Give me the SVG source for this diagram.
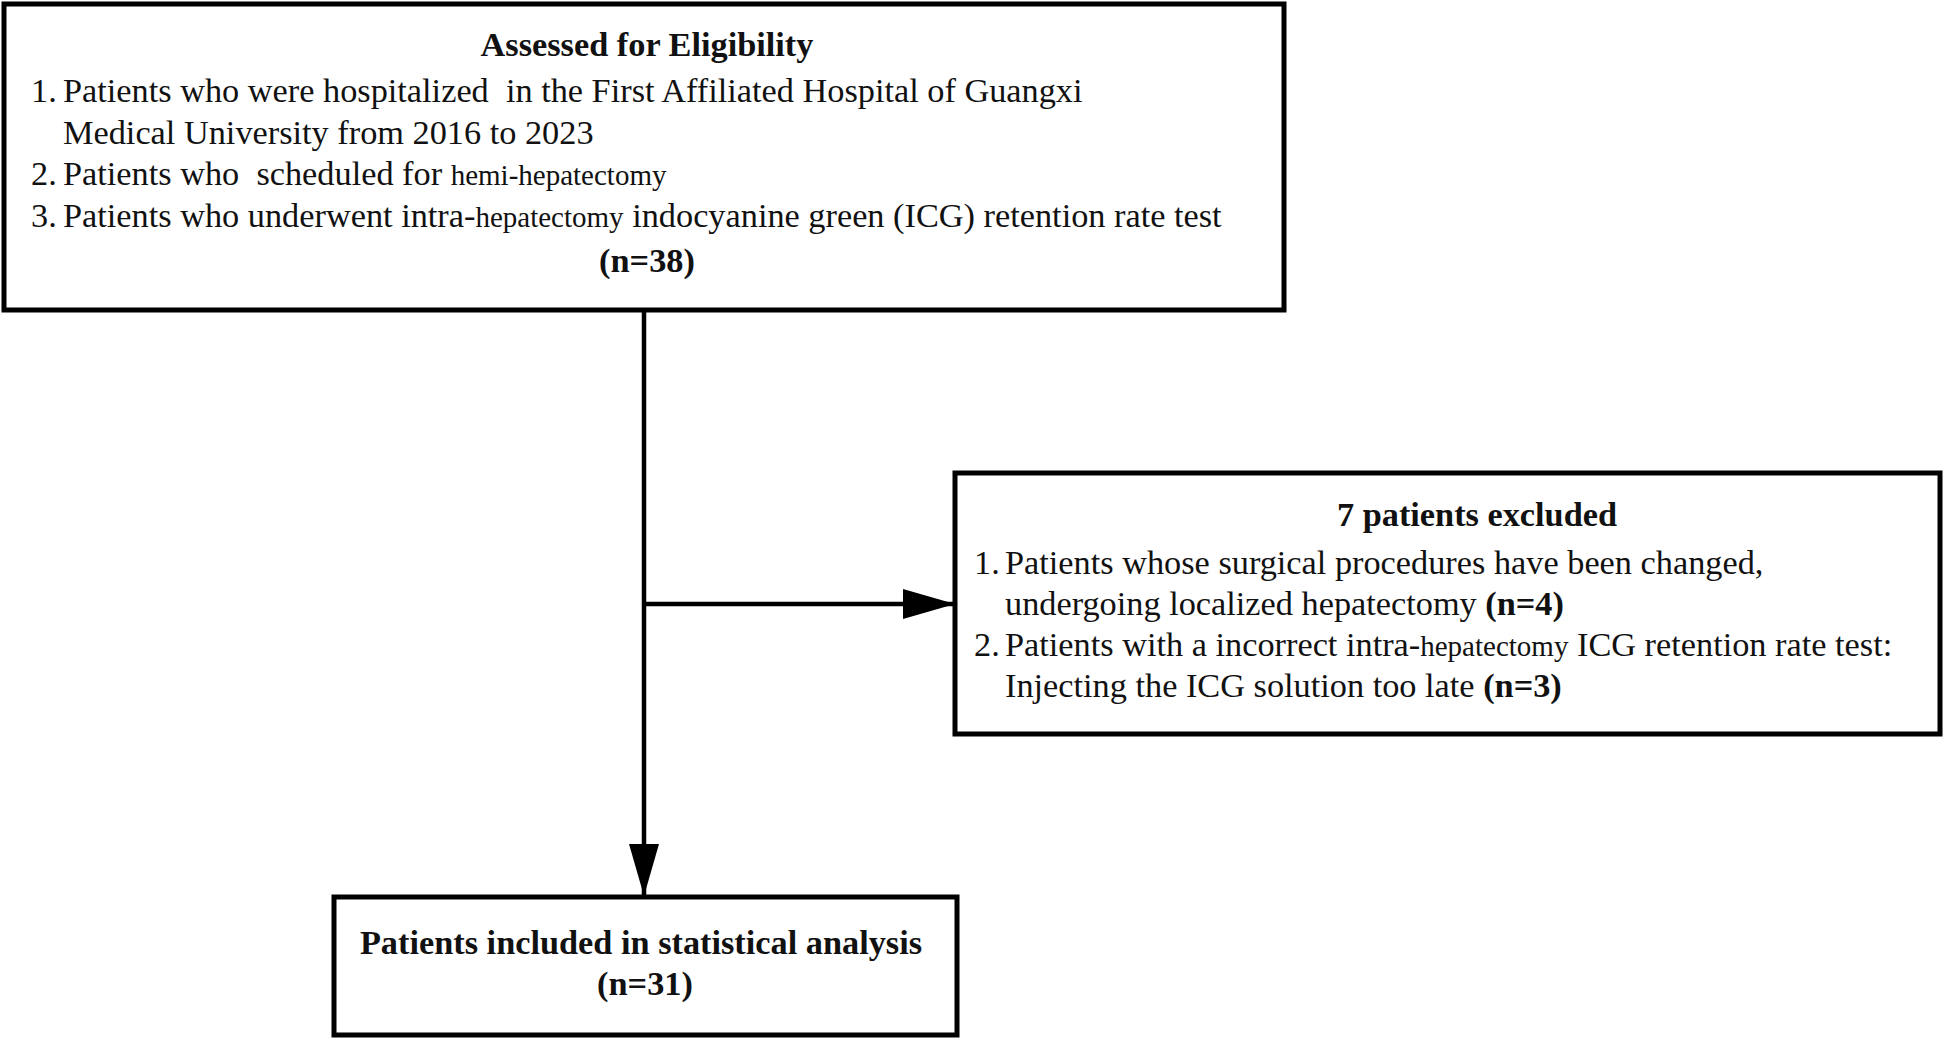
<svg xmlns="http://www.w3.org/2000/svg" width="1945" height="1040" viewBox="0 0 1945 1040">
<style>
.box{fill:#fff;stroke:#000;stroke-width:5}
.t{font-family:"Liberation Serif","Times New Roman",serif;font-size:34.3px;fill:#111;white-space:pre}
.b{font-weight:bold}
.s{font-size:29px}
.c{text-anchor:middle}
.ln{stroke:#000;stroke-width:4.5;fill:none}
</style>
<defs>
<marker id="ah" markerUnits="userSpaceOnUse" markerWidth="52" markerHeight="30" refX="52" refY="15" orient="auto">
<path d="M0,0 L52,15 L0,30 Z" fill="#000"/>
</marker>
</defs>
<rect width="1945" height="1040" fill="#fff"/>
<g id="connectors">
<line class="ln" x1="644" y1="311" x2="644" y2="896" marker-end="url(#ah)"/>
<line class="ln" x1="644" y1="604" x2="955" y2="604" marker-end="url(#ah)"/>
</g>
<g id="eligibility">
<rect class="box" x="4" y="4" width="1280" height="306"/>
<text class="t b c" x="647" y="56">Assessed for Eligibility</text>
<text class="t" x="31" y="102">1.</text>
<text class="t" x="63" y="102">Patients who were hospitalized  in the First Affiliated Hospital of Guangxi</text>
<text class="t" x="63" y="144">Medical University from 2016 to 2023</text>
<text class="t" x="31" y="185">2.</text>
<text class="t" x="63" y="185">Patients who  scheduled for <tspan class="s">hemi-hepatectomy</tspan></text>
<text class="t" x="31" y="227">3.</text>
<text class="t" x="63" y="227">Patients who underwent intra-<tspan class="s">hepatectomy</tspan> indocyanine green (ICG) retention rate test</text>
<text class="t b c" x="647" y="272">(n=38)</text>
</g>
<g id="excluded">
<rect class="box" x="955" y="473" width="985" height="261"/>
<text class="t b c" x="1477" y="526">7 patients excluded</text>
<text class="t" x="974" y="574">1.</text>
<text class="t" x="1005" y="574">Patients whose surgical procedures have been changed,</text>
<text class="t" x="1005" y="615">undergoing localized hepatectomy <tspan class="b">(n=4)</tspan></text>
<text class="t" x="974" y="656">2.</text>
<text class="t" x="1005" y="656">Patients with a incorrect intra-<tspan class="s">hepatectomy</tspan> ICG retention rate test:</text>
<text class="t" x="1005" y="697">Injecting the ICG solution too late <tspan class="b">(n=3)</tspan></text>
</g>
<g id="included">
<rect class="box" x="334" y="897" width="623" height="138"/>
<text class="t b c" x="641" y="954">Patients included in statistical analysis</text>
<text class="t b c" x="645" y="995">(n=31)</text>
</g>
</svg>
